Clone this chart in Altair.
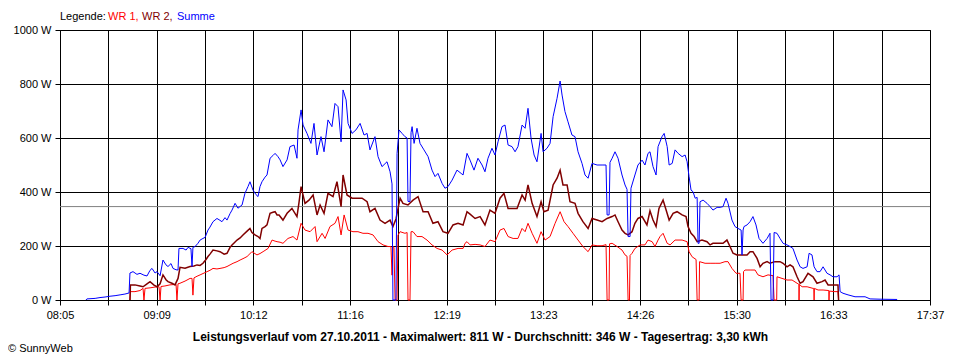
import json
import altair as alt
import pandas as pd

# ---------------- data ----------------
# time in minutes after midnight, power in W
summe = [(502.1, 0), (502.7, 4), (508.1, 6), (511.3, 9), (514.6, 11), (517.9, 14), (521.2, 16), (524.5, 19),
         (527.7, 22), (530.4, 26), (531.0, 100), (533.0, 105), (535.6, 95), (537.6, 99), (540.2, 92), (542.2, 89),
         (544.2, 110), (545.5, 117), (547.5, 100), (548.8, 105), (550.8, 90), (552.7, 148), (554.7, 130),
         (556.0, 124), (558.0, 135), (559.3, 117), (561.3, 112), (562.6, 111), (563.2, 191), (565.9, 191),
         (567.9, 185), (569.2, 195), (571.1, 190), (571.8, 124), (572.4, 195), (573.8, 198), (575.7, 210),
         (577.1, 222), (579.0, 228), (580.4, 232), (582.3, 259), (583.6, 270), (585.6, 290), (588.2, 302),
         (590.2, 295), (591.5, 290), (593.5, 305), (594.8, 296), (596.8, 320), (598.1, 333), (600.1, 358),
         (602.0, 340), (604.7, 352), (606.6, 395), (608.6, 420), (609.9, 438), (611.9, 407), (613.9, 390),
         (615.2, 383), (616.5, 420), (617.8, 438), (619.8, 455), (621.1, 463), (623.1, 525), (625.0, 535),
         (626.4, 543), (628.3, 531), (629.7, 519), (631.6, 494), (634.3, 519), (636.2, 568), (638.9, 574),
         (640.8, 525), (641.5, 630), (643.5, 704), (644.8, 648), (647.4, 617), (650.0, 580), (652.0, 654),
         (654.0, 537), (656.6, 605), (658.6, 549), (661.2, 667), (663.8, 642), (665.8, 728), (667.8, 716),
         (669.8, 586), (671.1, 778), (673.1, 741), (674.4, 654), (677.0, 617), (679.6, 630), (682.3, 654),
         (684.9, 611), (686.9, 617), (688.8, 556), (692.1, 605), (694.1, 531), (696.7, 494), (700.0, 512),
         (702.0, 475), (703.3, 430), (703.9, 0), (705.9, 0), (706.6, 543), (707.9, 630), (709.9, 617),
         (711.8, 605), (713.2, 600), (713.8, 365), (715.1, 365), (715.8, 620), (716.5, 642), (717.8, 580),
         (719.7, 636), (721.7, 580), (724.3, 556), (727.0, 531), (729.6, 481), (731.6, 457), (733.5, 469),
         (736.2, 432), (738.1, 414), (740.1, 420), (742.8, 444), (746.0, 481), (748.7, 469), (750.0, 463),
         (752.6, 543), (754.6, 518), (757.2, 481), (759.8, 525), (762.5, 500), (764.4, 475), (766.4, 525),
         (769.0, 562), (771.0, 537), (773.0, 586), (775.6, 642), (777.6, 648), (779.6, 574), (782.2, 568),
         (784.2, 549), (786.1, 568), (788.8, 648), (790.8, 636), (792.7, 710), (794.7, 599), (796.7, 537),
         (798.6, 512), (801.3, 617), (802.6, 549), (805.2, 562), (807.2, 580), (809.2, 679), (811.8, 747),
         (813.8, 811), (815.1, 759), (817.0, 698), (819.0, 660), (821.6, 611), (823.6, 605), (825.6, 549),
         (828.2, 506), (830.2, 463), (832.2, 451), (834.8, 506), (838.1, 500), (841.4, 500), (844.0, 500),
         (844.7, 315), (846.0, 315), (846.6, 510), (848.0, 525), (849.9, 549), (851.9, 525), (854.5, 463),
         (856.5, 426), (857.8, 410), (858.5, 235), (859.8, 235), (860.4, 414), (863.0, 463), (865.0, 500),
         (867.7, 518), (869.6, 500), (871.6, 543), (872.9, 549), (874.9, 494), (876.9, 463), (878.2, 568),
         (880.8, 605), (882.2, 617), (884.2, 568), (885.5, 500), (887.5, 506), (889.4, 556), (891.4, 543),
         (894.0, 531), (896.0, 537), (897.3, 512), (898.6, 457), (899.9, 407), (901.2, 401), (902.6, 377),
         (903.9, 380), (904.5, 210), (905.2, 210), (905.8, 364), (907.8, 370), (910.4, 358), (912.4, 346),
         (914.3, 333), (917.0, 343), (919.0, 343), (920.9, 346), (922.9, 377), (924.2, 358), (926.8, 296),
         (928.8, 272), (930.8, 265), (932.8, 259), (933.4, 167), (934.1, 259), (934.7, 272), (936.7, 278),
         (938.7, 290), (940.6, 309), (942.6, 278), (944.6, 228), (947.2, 210), (949.9, 228), (951.8, 247),
         (952.5, 0), (953.8, 0), (954.5, 250), (956.4, 247), (958.4, 228), (960.4, 210), (963.0, 204),
         (965.0, 198), (966.9, 191), (969.6, 148), (971.6, 123), (973.5, 117), (976.2, 123), (977.5, 173),
         (979.4, 167), (980.8, 123), (982.7, 105), (984.7, 105), (986.7, 123), (989.3, 99), (991.3, 93),
         (993.2, 86), (995.9, 86), (997.2, 93), (997.9, 31), (999.8, 25), (1003.1, 19), (1007.7, 12),
         (1014.3, 12), (1017.6, 4), (1024.2, 3), (1035.4, 2)]

wr2 = [(531.0, 0), (531.3, 56), (534.3, 56), (537.6, 52), (539.6, 49), (542.2, 60), (544.2, 68), (546.8, 55),
       (548.8, 49), (550.8, 60), (552.7, 93), (554.7, 75), (556.0, 68), (558.6, 62), (560.6, 56), (562.6, 80),
       (563.9, 121), (567.2, 118), (570.5, 124), (573.1, 126), (575.1, 130), (577.1, 128), (579.0, 136),
       (581.0, 150), (582.3, 161), (583.6, 170), (585.6, 185), (588.2, 182), (590.2, 179), (592.9, 170),
       (594.8, 173), (596.8, 195), (598.1, 204), (600.1, 215), (601.4, 222), (603.4, 230), (605.3, 241),
       (608.0, 255), (609.9, 265), (611.2, 250), (613.2, 241), (615.2, 235), (616.5, 228), (617.8, 265),
       (619.8, 272), (621.1, 278), (623.1, 321), (625.0, 325), (626.4, 327), (627.7, 315), (629.0, 315),
       (631.6, 296), (634.3, 321), (637.5, 339), (640.8, 309), (642.1, 360), (643.5, 420), (646.1, 358),
       (648.7, 370), (651.4, 389), (654.0, 315), (656.0, 352), (658.6, 321), (661.2, 395), (664.5, 383),
       (667.1, 438), (669.8, 346), (671.1, 463), (673.7, 389), (677.0, 377), (680.3, 377), (683.6, 377),
       (686.9, 364), (688.8, 327), (692.1, 339), (695.4, 296), (698.7, 284), (702.0, 296), (703.9, 272),
       (705.9, 300), (708.6, 377), (710.5, 358), (713.8, 352), (717.1, 370), (720.4, 383), (723.7, 327),
       (727.0, 327), (730.2, 284), (733.5, 290), (736.8, 253), (740.1, 247), (743.4, 278), (746.7, 284),
       (750.0, 278), (752.6, 327), (754.6, 318), (757.9, 302), (761.2, 309), (764.4, 278), (767.7, 333),
       (771.0, 321), (774.3, 377), (776.9, 395), (779.6, 339), (782.9, 339), (785.5, 339), (788.8, 389),
       (790.8, 370), (792.7, 426), (795.4, 358), (798.6, 309), (801.3, 364), (803.2, 327), (805.9, 333),
       (809.2, 426), (811.8, 451), (813.8, 481), (815.7, 426), (818.4, 426), (820.3, 364), (823.6, 358),
       (825.6, 321), (828.8, 290), (832.2, 265), (834.8, 302), (838.1, 296), (841.4, 290), (844.7, 302),
       (848.0, 309), (849.9, 315), (851.9, 290), (854.5, 259), (856.5, 247), (858.5, 241), (861.1, 253),
       (863.0, 284), (865.0, 302), (867.7, 309), (870.9, 278), (872.9, 330), (874.9, 296), (876.9, 272),
       (878.8, 339), (881.5, 370), (883.5, 333), (885.5, 296), (888.1, 321), (890.7, 327), (894.0, 315),
       (896.6, 309), (897.9, 272), (899.9, 247), (901.9, 235), (903.9, 216), (907.1, 222), (910.4, 216),
       (912.4, 204), (914.3, 210), (917.6, 210), (920.9, 210), (923.5, 222), (925.5, 198), (927.5, 173),
       (930.1, 167), (933.4, 167), (936.7, 167), (938.7, 179), (940.6, 179), (943.3, 154), (945.3, 123),
       (947.2, 136), (949.9, 142), (951.8, 136), (955.1, 142), (958.4, 142), (960.4, 136), (963.0, 123),
       (965.0, 130), (966.9, 123), (969.6, 86), (971.6, 62), (973.5, 68), (976.8, 99), (980.1, 86),
       (982.7, 62), (986.0, 68), (988.0, 74), (990.0, 56), (993.2, 56), (996.5, 56), (996.9, 0)]

wr1 = [(531.0, 0), (531.3, 31), (534.3, 31), (537.6, 35), (539.6, 43), (540.2, 0), (540.9, 43), (544.2, 45),
       (547.5, 48), (550.1, 49), (550.8, 0), (551.4, 50), (554.0, 52), (557.3, 56), (561.3, 58), (561.9, 0),
       (562.6, 60), (563.9, 62), (567.2, 70), (570.5, 80), (571.8, 80), (572.4, 18), (573.1, 82), (575.1, 88),
       (577.1, 93), (579.0, 98), (581.7, 105), (583.6, 110), (585.6, 117), (588.2, 115), (590.2, 117),
       (592.9, 120), (594.8, 124), (596.8, 130), (598.8, 136), (601.4, 142), (603.4, 148), (606.0, 155),
       (608.0, 161), (611.2, 179), (614.5, 167), (616.5, 172), (618.5, 179), (621.8, 191), (624.4, 222),
       (626.4, 218), (627.7, 216), (629.7, 214), (631.6, 210), (634.9, 228), (638.2, 235), (640.8, 222),
       (643.5, 284), (646.1, 259), (649.4, 253), (652.7, 272), (654.0, 216), (657.3, 247), (659.3, 228),
       (662.5, 272), (665.8, 284), (667.8, 309), (669.8, 241), (671.8, 315), (674.4, 259), (677.6, 253),
       (680.9, 253), (684.2, 247), (687.5, 247), (690.8, 241), (694.1, 216), (697.4, 204), (700.7, 198),
       (702.6, 198), (703.3, 92), (703.9, 198), (704.6, 195), (705.3, 0), (706.6, 0), (707.2, 240),
       (708.6, 253), (711.8, 247), (713.2, 250), (713.8, 0), (715.1, 0), (715.8, 253), (717.1, 253),
       (719.7, 235), (723.0, 235), (726.3, 222), (729.6, 204), (732.9, 191), (736.2, 185), (739.5, 167),
       (742.8, 185), (746.7, 191), (750.0, 191), (751.3, 210), (752.6, 216), (754.6, 204), (757.9, 206),
       (761.2, 204), (764.4, 198), (767.7, 222), (771.0, 216), (774.3, 259), (776.9, 265), (779.6, 235),
       (782.9, 228), (786.1, 228), (788.8, 265), (790.8, 253), (792.7, 284), (795.4, 247), (798.6, 210),
       (801.3, 253), (803.9, 222), (807.2, 235), (810.5, 284), (813.8, 327), (816.4, 290), (819.0, 272),
       (822.3, 247), (825.6, 222), (828.8, 198), (832.2, 179), (834.8, 204), (838.1, 201), (841.4, 201),
       (844.0, 205), (844.7, 0), (846.0, 0), (846.3, 208), (848.0, 210), (851.3, 198), (854.5, 185),
       (856.5, 167), (857.8, 162), (858.5, 0), (859.4, 0), (859.8, 165), (861.1, 173), (863.0, 191),
       (866.4, 204), (869.6, 204), (871.6, 222), (874.3, 216), (876.2, 198), (878.2, 222), (879.5, 235),
       (881.5, 247), (884.2, 210), (886.1, 204), (889.4, 222), (894.0, 222), (897.3, 216), (898.6, 179),
       (900.6, 160), (903.2, 150), (903.9, 0), (905.2, 0), (905.5, 142), (909.1, 136), (912.4, 136),
       (915.7, 136), (919.0, 136), (922.2, 142), (924.2, 142), (926.8, 117), (929.5, 99), (932.1, 99),
       (932.8, 0), (934.1, 0), (934.4, 105), (935.4, 111), (938.7, 111), (942.0, 111), (943.9, 93),
       (947.2, 86), (950.5, 93), (953.8, 90), (954.5, 0), (956.2, 0), (956.4, 86), (959.7, 80), (963.0, 74),
       (966.3, 74), (969.6, 62), (970.8, 58), (970.9, 0), (971.1, 58), (972.9, 49), (976.2, 49), (980.1, 43),
       (980.6, 43), (980.8, 0), (981.0, 43), (983.4, 37), (986.7, 37), (990.5, 35), (990.6, 0), (990.8, 33),
       (994.5, 31), (996.5, 31), (996.9, 0)]

x_tick_labels = ["08:05", "", "09:09", "", "10:12", "", "11:16", "", "12:19", "", "13:23", "",
                 "14:26", "", "15:30", "", "16:33", "", "17:37"]
y_ticks = [0, 200, 400, 600, 800, 1000]
t_start, t_end = 485, 1057
average_w = 346
legend_parts = [("Legende:", "#000000"), ("WR 1,", "#FF0000"), ("WR 2,", "#800000"), ("Summe", "#0000FF")]
title_text = "Leistungsverlauf vom 27.10.2011 - Maximalwert: 811 W - Durchschnitt: 346 W - Tagesertrag: 3,30 kWh"
copyright_text = "© SunnyWeb"

# ---------------- chart ----------------
W, H = 870, 270
FONT = "Liberation Sans"
step = (t_end - t_start) / (len(x_tick_labels) - 1)
x_vals = [t_start + i * step for i in range(len(x_tick_labels))]

x_scale = alt.Scale(domain=[t_start, t_end], nice=False, zero=False)
y_scale = alt.Scale(domain=[0, 1000], nice=False, zero=True)

x_axis = alt.Axis(
    values=x_vals,
    labelExpr=f"{json.dumps(x_tick_labels)}[round((datum.value - {t_start}) / {step})]",
    grid=True, gridColor="black", gridOpacity=1, gridWidth=1,
    domainColor="black", tickColor="black", tickSize=5, tickWidth=1,
    labelColor="black", labelFont=FONT, labelFontSize=11, labelPadding=4,
    labelFlush=False, labelOverlap=False, title=None,
)
y_axis = alt.Axis(
    values=y_ticks, labelExpr="datum.value + ' W'",
    grid=True, gridColor="black", gridOpacity=1, gridWidth=1,
    domainColor="black", tickColor="black", tickSize=5, tickWidth=1,
    labelColor="black", labelFont=FONT, labelFontSize=11, labelPadding=4, title=None,
)

def series(pairs, color, width):
    df = pd.DataFrame(pairs, columns=["t", "w"])
    return alt.Chart(df).mark_line(color=color, strokeWidth=width, interpolate="linear").encode(
        x=alt.X("t:Q", scale=x_scale, axis=x_axis),
        y=alt.Y("w:Q", scale=y_scale, axis=y_axis),
    )

avg = alt.Chart(pd.DataFrame({"w": [average_w]})).mark_rule(color="#808080", strokeWidth=1).encode(
    y=alt.Y("w:Q", scale=y_scale, axis=y_axis)
)

def text(txt, x, y, color="black", bold=False, align="left", size=11):
    return alt.Chart(alt.Data(values=[{}])).mark_text(
        text=txt, align=align, baseline="middle", font=FONT, fontSize=size,
        fontWeight="bold" if bold else "normal", color=color,
    ).encode(x=alt.value(x), y=alt.value(y))

legend_x = [0, 48, 82, 117]
legend_layers = [text(t, lx, -13, color=c) for (t, c), lx in zip(legend_parts, legend_x)]

chart = alt.layer(
    series(wr1, "#FF0000", 1),
    avg,
    series(wr2, "#800000", 1.5),
    series(summe, "#0000FF", 1),
    *legend_layers,
    text(title_text, 420.5, 307, bold=True, align="center", size=12),
    text(copyright_text, -52, 319),
).properties(
    width=W, height=H,
    autosize=alt.AutoSizeParams(type="none"),
    padding={"left": 52, "top": 22, "right": 22, "bottom": 58},
    background="white",
).configure_view(stroke="black", strokeWidth=1)

chart.save("out.html", embed_options={"renderer": "svg", "actions": False})
